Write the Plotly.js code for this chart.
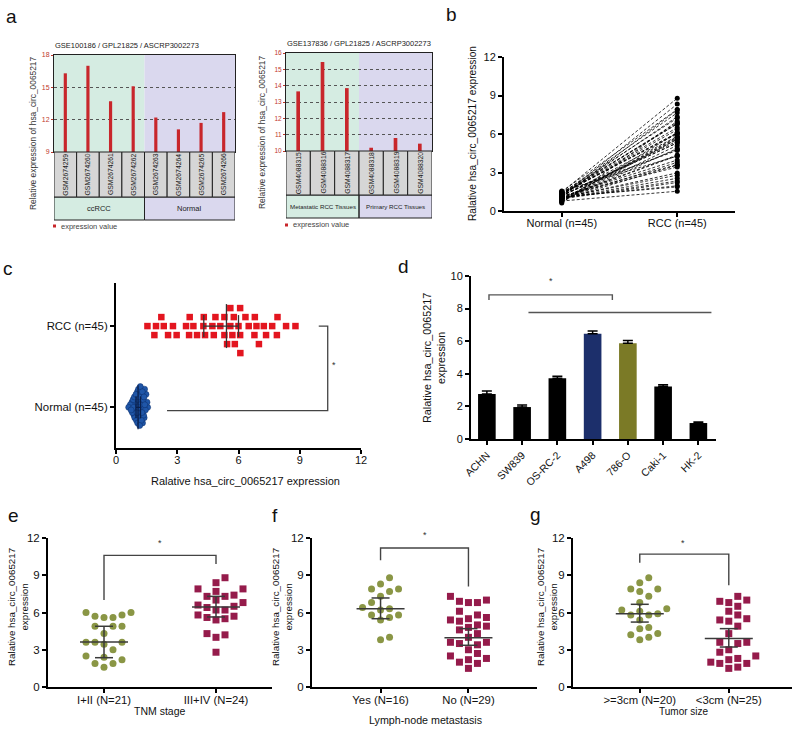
<!DOCTYPE html>
<html><head><meta charset="utf-8">
<script src="https://cdn.plot.ly/plotly-3.0.1.min.js"></script>
<style>html,body{margin:0;padding:0;background:#fff}#chart{width:800px;height:732px}</style>
</head><body><div id="chart"></div>
<script>
// ---------------- DATA ----------------
const a1Title = 'GSE100186 / GPL21825 / ASCRP3002273';
const a1Samples = ['GSM2674259','GSM2674260','GSM2674261','GSM2674262','GSM2674263','GSM2674264','GSM2674265','GSM2674266'];
const a1Values = [16.3, 17.0, 13.7, 15.1, 12.2, 11.1, 11.7, 12.7];
const a1Groups = ['ccRCC','Normal'];
const a1GroupSizes = [4,4];
const a1Ticks = [9,12,15,18];

const a2Title = 'GSE137836 / GPL21825 / ASCRP3002273';
const a2Samples = ['GSM4088315','GSM4088316','GSM4088317','GSM4088318','GSM4088319','GSM4088320'];
const a2Values = [13.65, 15.45, 13.85, 10.2, 10.8, 10.45];
const a2Groups = ['Metastatic RCC Tissues','Primary RCC Tissues'];
const a2GroupSizes = [3,3];
const a2Ticks = [10,11,12,13,14,15,16];
const legendText = 'expression value';

const pairCats = ['Normal (n=45)','RCC (n=45)'];
const normalVals = [1.21,0.95,1.38,1.05,0.78,1.32,1.12,0.88,1.47,1.02,1.25,0.70,1.15,1.40,0.92,1.08,1.30,1.55,0.84,1.18,1.00,1.35,0.97,1.22,0.62,1.10,1.44,1.27,0.90,1.14,1.52,1.06,0.80,1.33,1.19,0.98,1.41,1.03,1.24,0.86,1.16,1.29,0.74,1.09,1.37];
const rccVals = [5.31,2.22,7.65,4.36,1.54,6.50,3.97,5.77,8.79,2.97,4.79,6.08,3.43,7.24,5.60,1.96,6.88,4.28,5.11,8.33,2.55,6.00,3.79,5.44,7.00,1.88,4.72,6.34,3.58,5.82,7.91,2.79,4.87,6.09,5.31,2.34,6.78,4.30,7.35,5.70,3.61,6.80,5.60,7.88,6.08];
const cCenter = [1.08, 5.41];
const cLow = [0.98, 4.30];
const cHigh = [1.20, 6.00];

const cellLines = ['ACHN','SW839','OS-RC-2','A498','786-O','Caki-1','HK-2'];
const cellMeans = [2.76, 1.96, 3.73, 6.45, 5.88, 3.22, 0.98];
const cellErr = [0.19, 0.13, 0.12, 0.18, 0.16, 0.11, 0.07];
const cellColors = ['#000000','#000000','#000000','#1c2f6b','#7b7a26','#000000','#000000'];

const tnmCats = ['I+II (N=21)','III+IV (N=24)'];
const tnmLow = [6.0,6.0,5.8,5.7,5.6,5.6,4.9,4.9,4.9,4.3,3.6,3.6,3.6,3.45,3.0,2.5,2.4,2.2,1.9,1.9,1.6];
const tnmHigh = [8.8,8.4,7.9,7.9,7.7,7.4,7.3,7.3,7.0,6.8,6.6,6.5,6.4,6.2,6.2,5.8,5.7,5.6,5.5,5.4,4.3,4.2,4.0,2.8];
const tnmCenter = [3.62, 6.44], tnmLo = [2.36, 5.64], tnmHi = [4.89, 7.30];

const lnCats = ['Yes (N=16)','No (N=29)'];
const lnYes = [8.8,8.3,7.9,7.9,7.7,7.3,6.8,6.4,6.3,6.2,5.8,5.8,5.6,5.4,4.0,3.8];
const lnNo = [7.3,7.0,6.9,6.8,6.8,6.1,5.8,5.6,5.5,5.4,5.3,5.0,4.9,4.8,4.6,4.3,4.0,3.6,3.6,3.5,3.4,3.0,2.7,2.5,2.3,2.2,2.0,1.9,1.5];
const lnCenter = [6.3, 3.97], lnLo = [5.5, 3.36], lnHi = [7.17, 4.7];

const tsCats = ['>=3cm (N=20)','<3cm (N=25)'];
const tsBig = [8.8,8.4,7.9,7.9,7.7,7.3,6.8,6.3,6.2,6.1,5.9,5.8,5.8,5.4,4.8,4.7,4.3,4.2,4.0,3.8];
const tsSmall = [7.3,7.0,6.9,6.8,6.5,6.1,5.8,5.5,5.4,5.3,4.9,4.3,3.6,3.6,3.5,3.0,2.8,2.5,2.3,2.2,2.0,1.9,1.9,1.6,1.5];
const tsCenter = [5.9, 3.9], tsLo = [5.23, 3.22], tsHi = [6.66, 4.7];

const yTitleLong = 'Relative expression of hsa_circ_0065217';
const yTitleRal = 'Ralative hsa_circ_0065217 expression';
const yTitleRal2 = 'Ralative hsa_circ_0065217<br>expression';

// ---------------- HELPERS ----------------
const W = 800, H = 732;
const PX = x => x / W, PY = y => 1 - y / H;
const FONT = 'Arial, "Liberation Sans", Helvetica, sans-serif';
const GREEN = '#8a9645', MAROON = '#951b4b';
const layout = {width: W, height: H, margin: {l:0,r:0,t:0,b:0}, paper_bgcolor:'#fff', plot_bgcolor:'rgba(0,0,0,0)',
  showlegend:false, font:{family:FONT, color:'#111'}, shapes:[], annotations:[]};
const traces = [];
function ann(o){ const f = Object.assign({family:FONT,size:11,color:'#111'}, o.font||{});
  layout.annotations.push(Object.assign({showarrow:false,xref:'paper',yref:'paper',xanchor:'center',yanchor:'middle',borderpad:0}, o, {font:f})); }
function shp(o){ layout.shapes.push(o); }

function swarm(vals, pxPerVal, step, d){
  const order = vals.map((v,i)=>i).sort((a,b)=>vals[a]-vals[b]);
  const placed = []; const off = new Array(vals.length).fill(0);
  order.forEach(i=>{
    const v = vals[i]*pxPerVal;
    for(let k=0;k<400;k++){
      const s = k===0 ? 0 : (k%2===1 ? (k+1)/2 : -k/2);
      if(placed.every(p=>p.s!==s || Math.abs(p.v-v)>=d)){ placed.push({v,s}); off[i]=s*step; break; }
    }
  });
  return off;
}

// ---------------- PANEL a (GEO bar charts) ----------------
function geoPanel(n, o){
  const xa = 'x'+n, ya = 'y'+n;
  const N = o.samples.length;
  layout['xaxis'+n] = {domain:[PX(o.l),PX(o.r)], range:[-0.5,N-0.5], showticklabels:false, ticks:'', showgrid:false,
    zeroline:false, showline:true, mirror:true, linecolor:'#222', linewidth:1, anchor:ya};
  layout['yaxis'+n] = {domain:[PY(o.b),PY(o.t)], range:o.range, tickvals:o.ticks, ticks:'outside', ticklen:2, tickcolor:'#c0392b',
    tickfont:{size:o.tickSize,color:'#c0392b'}, showgrid:true, griddash:'dot', gridcolor:'#555', gridwidth:1, zeroline:false,
    showline:true, mirror:true, linecolor:'#222', linewidth:1, anchor:xa};
  traces.push({type:'bar', x:o.samples.map((s,i)=>i), y:o.values, width:o.barW, marker:{color:'#c8262b'}, xaxis:xa, yaxis:ya, hoverinfo:'skip'});
  let start = 0;
  o.groups.forEach((g,gi)=>{
    const end = start + o.sizes[gi];
    shp({type:'rect', xref:xa, yref:'paper', x0:start-0.5, x1:end-0.5, y0:PY(o.gb), y1:PY(o.t), fillcolor:o.colors[gi], line:{width:0}, layer:'below'});
    shp({type:'rect', xref:xa, yref:'paper', x0:start-0.5, x1:end-0.5, y0:PY(o.gb), y1:PY(o.sb), line:{color:'#222',width:1}});
    ann({xref:xa, x:(start+end-1)/2, y:PY((o.sb+o.gb)/2), text:g, font:{size:o.groupSize,color:'#222'}});
    start = end;
  });
  o.samples.forEach((s,i)=>{
    shp({type:'rect', xref:xa, yref:'paper', x0:i-0.5, x1:i+0.5, y0:PY(o.sb), y1:PY(o.b), fillcolor:'#d6d6d6', line:{color:'#222',width:1}});
    ann({xref:xa, x:i, y:PY((o.b+o.sb)/2), text:s, textangle:-90, font:{size:o.sampleSize,color:'#222'}});
  });
  ann({x:PX(o.l), y:PY(o.titleY), xanchor:'left', text:o.title, font:{size:7.5,color:'#222'}});
  shp({type:'rect', xref:'paper', yref:'paper', x0:PX(o.l-1), x1:PX(o.l+2), y0:PY(o.legendY+1.5), y1:PY(o.legendY-1.5), fillcolor:'#c8262b', line:{width:0}});
  ann({x:PX(o.l+6), y:PY(o.legendY), xanchor:'left', text:legendText, font:{size:7.5,color:'#444'}});
  ann({x:PX(o.ytx), y:PY(o.yty), text:yTitleLong, textangle:-90, font:{size:8.4,color:'#333'}});
}
geoPanel('', {samples:a1Samples, values:a1Values, groups:a1Groups, sizes:a1GroupSizes, range:[9,18], ticks:a1Ticks,
  l:54, r:235, t:55, b:152, sb:197, gb:220, barW:0.14, tickSize:7, groupSize:7.5, sampleSize:6.8, title:a1Title,
  titleY:46, legendY:226, ytx:33, yty:133, colors:['#d5ece2','#dad8ee']});
geoPanel('2', {samples:a2Samples, values:a2Values, groups:a2Groups, sizes:a2GroupSizes, range:[10,16], ticks:a2Ticks,
  l:286, r:432, t:53, b:151, sb:195, gb:218, barW:0.15, tickSize:6.5, groupSize:6.2, sampleSize:6.8, title:a2Title,
  titleY:44, legendY:225, ytx:262, yty:132, colors:['#d5ece2','#dad8ee']});

// common axis style for GraphPad panels
function gpAxis(extra){ return Object.assign({ticks:'outside', ticklen:4, tickwidth:2, tickcolor:'#000', showline:true, linewidth:2,
  linecolor:'#000', showgrid:false, zeroline:false, tickfont:{size:11,color:'#111'}}, extra); }

// ---------------- PANEL b ----------------
layout.xaxis3 = gpAxis({domain:[PX(504),PX(735)], range:[-0.5,1.5], tickvals:[0,1], ticktext:pairCats, anchor:'y3', ticklabelstandoff:-3, tickfont:{size:11,color:'#111'}});
layout.yaxis3 = gpAxis({domain:[PY(211),PY(57)], range:[0,12], tickvals:[0,3,6,9,12], anchor:'x3', tickfont:{size:11,color:'#111'}});
(function(){
  const x=[], y=[];
  normalVals.forEach((v,i)=>{ x.push(0,1,null); y.push(v, rccVals[i], null); });
  traces.push({type:'scatter', mode:'lines+markers', x, y, xaxis:'x3', yaxis:'y3', connectgaps:false,
    line:{color:'#000', width:0.8, dash:'3px,2px'}, marker:{color:'#000', size:5}, hoverinfo:'skip'});
})();
ann({x:PX(472), y:PY(134), text:yTitleRal, textangle:-90, font:{size:10.2}});

// ---------------- PANEL c ----------------
layout.xaxis4 = gpAxis({domain:[PX(116),PX(361)], range:[0,12], tickvals:[0,3,6,9,12], anchor:'y4', ticklabelstandoff:-3, tickfont:{size:11,color:'#111'}});
layout.yaxis4 = gpAxis({domain:[PY(448),PY(283)], range:[-0.5,1.53], tickvals:[0,1], ticktext:pairCats, anchor:'x4', tickfont:{size:11.4,color:'#111'}});
(function(){
  const pxVal = 245/12, pxCat = 165/2.03;
  const offN = swarm(normalVals, pxVal, 2.6, 4.6);
  const offR = swarm(rccVals, pxVal, 9, 7);
  traces.push({type:'scatter', mode:'markers', x:normalVals, y:normalVals.map((v,i)=>0+offN[i]/pxCat), xaxis:'x4', yaxis:'y4',
    marker:{symbol:'circle', size:6, color:'#1f56a8', line:{color:'#0c2e6b', width:0.5}}, hoverinfo:'skip'});
  traces.push({type:'scatter', mode:'markers', x:rccVals, y:rccVals.map((v,i)=>1-offR[i]/pxCat), xaxis:'x4', yaxis:'y4',
    marker:{symbol:'square', size:6.5, color:'#e3151f'}, hoverinfo:'skip'});
  const mh = 22/pxCat, ch = 11/pxCat;
  const cols = ['#0a1f4a','#333'];
  [0,1].forEach(g=>{
    traces.push({type:'scatter', mode:'lines', xaxis:'x4', yaxis:'y4', hoverinfo:'skip', line:{color:cols[g], width:1.3},
      x:[cCenter[g],cCenter[g],null,cLow[g],cHigh[g],null,cLow[g],cLow[g],null,cHigh[g],cHigh[g]],
      y:[g-mh,g+mh,null,g,g,null,g-ch,g+ch,null,g-ch,g+ch]});
  });
  traces.push({type:'scatter', mode:'lines', xaxis:'x4', yaxis:'y4', hoverinfo:'skip', line:{color:'#444', width:1.3},
    x:[2.5,10.37,10.37,9.93], y:[-0.04,-0.04,1.0,1.0]});
  ann({xref:'x4', yref:'y4', x:10.67, y:0.52, text:'*', font:{size:9,color:'#333'}});
})();
ann({x:PX(245), y:PY(481), text:yTitleRal, font:{size:11}});

// ---------------- PANEL d ----------------
layout.xaxis5 = gpAxis({domain:[PX(471),PX(716)], range:[-0.45,6.5], tickvals:cellLines.map((c,i)=>i), ticktext:cellLines, tickangle:-45, anchor:'y5', tickfont:{size:10.5,color:'#111'}});
layout.yaxis5 = gpAxis({domain:[PY(439),PY(276)], range:[0,10], tickvals:[0,2,4,6,8,10], anchor:'x5', tickfont:{size:11,color:'#111'}});
traces.push({type:'bar', x:cellLines.map((c,i)=>i), y:cellMeans, width:0.5, xaxis:'x5', yaxis:'y5', hoverinfo:'skip',
  marker:{color:cellColors, line:{width:0}},
  error_y:{type:'data', symmetric:false, array:cellErr, arrayminus:cellErr.map(()=>0), color:'#000', thickness:1.5, width:5}});
traces.push({type:'scatter', mode:'lines', xaxis:'x5', yaxis:'y5', hoverinfo:'skip', line:{color:'#555', width:1.4},
  x:[0.06,0.06,3.56,3.56,null,1.18,6.37], y:[8.53,8.84,8.84,8.53,null,7.76,7.76]});
ann({xref:'x5', yref:'y5', x:1.81, y:9.72, text:'*', font:{size:9,color:'#333'}});
ann({x:PX(434), y:PY(358), text:yTitleRal2, textangle:-90, font:{size:10.8}});

// ---------------- PANELS e, f, g ----------------
function dotPanel(n, o){
  const xa='x'+n, ya='y'+n;
  layout['xaxis'+n] = gpAxis({domain:[PX(o.l),PX(o.r)], range:o.xr, tickvals:[0,1], ticktext:o.cats, anchor:ya, ticklabelstandoff:-3, tickfont:{size:11.3,color:'#111'}});
  layout['yaxis'+n] = gpAxis({domain:[PY(o.b),PY(o.t)], range:[0,12], tickvals:[0,3,6,9,12], anchor:xa, tickfont:{size:11.5,color:'#111'}});
  const pxCat = (o.r-o.l)/(o.xr[1]-o.xr[0]), pxVal = (o.b-o.t)/12;
  [o.g1, o.g2].forEach((vals,gi)=>{
    const off = swarm(vals, pxVal, 9, 8);
    traces.push({type:'scatter', mode:'markers', x:vals.map((v,i)=>gi+off[i]/pxCat), y:vals, xaxis:xa, yaxis:ya, hoverinfo:'skip',
      marker:{symbol: gi ? 'square' : 'circle', size:7, color: gi ? MAROON : GREEN}});
  });
  const mh = 24/pxCat, ch = 9/pxCat;
  const x=[], y=[];
  [0,1].forEach(g=>{
    x.push(g-mh,g+mh,null, g,g,null, g-ch,g+ch,null, g-ch,g+ch,null);
    y.push(o.c[g],o.c[g],null, o.lo[g],o.hi[g],null, o.lo[g],o.lo[g],null, o.hi[g],o.hi[g],null);
  });
  traces.push({type:'scatter', mode:'lines', x, y, xaxis:xa, yaxis:ya, hoverinfo:'skip', line:{color:'#3a3a3a', width:1.5}});
  traces.push({type:'scatter', mode:'lines', xaxis:xa, yaxis:ya, hoverinfo:'skip', line:{color:'#444', width:1.4},
    x:[0,0,1,1], y:[o.br[0],o.br[1],o.br[1],o.br[2]]});
  // significance star (placed in paper space so it may sit above the axis top)
  const starPxX = o.l + (o.star[0]-o.xr[0])*pxCat, starPxY = o.b - o.star[1]*pxVal;
  ann({x:PX(starPxX), y:PY(starPxY), text:'*', font:{size:9,color:'#333'}});
  ann({x:PX(o.ytx), y:PY(607), text:yTitleRal2, textangle:-90, font:{size:9.8}});
  ann({x:PX(o.xtx), y:PY(o.xty), text:o.xtitle, font:{size:o.xts}});
}
dotPanel('6', {l:48, r:272, t:538, b:687, xr:[-0.5,1.5], cats:tnmCats, g1:tnmLow, g2:tnmHigh, c:tnmCenter, lo:tnmLo, hi:tnmHi,
  br:[7.0,10.6,9.9], star:[0.5,11.6], ytx:18, xtx:160, xty:711, xtitle:'TNM stage', xts:10.5});
dotPanel('7', {l:312, r:537, t:538, b:687, xr:[-0.78,1.78], cats:lnCats, g1:lnYes, g2:lnNo, c:lnCenter, lo:lnLo, hi:lnHi,
  br:[10.2,11.2,8.1], star:[0.5,12.25], ytx:282, xtx:425, xty:720, xtitle:'Lymph-node metastasis', xts:10.7});
dotPanel('8', {l:573, r:792, t:538, b:687, xr:[-0.75,1.71], cats:tsCats, g1:tsBig, g2:tsSmall, c:tsCenter, lo:tsLo, hi:tsHi,
  br:[10.0,10.7,8.2], star:[0.49,11.6], ytx:547, xtx:684, xty:711, xtitle:'Tumor size', xts:10});

// ---------------- panel letters ----------------
[['a',11,17],['b',452,15],['c',8,268],['d',403,266],['e',13,515],['f',275,515],['g',535,514]].forEach(p=>{
  ann({x:PX(p[1]), y:PY(p[2]), text:p[0], font:{size:19,color:'#111'}});
});

Plotly.newPlot('chart', traces, layout, {staticPlot:true, displayModeBar:false});
</script>
</body></html>
